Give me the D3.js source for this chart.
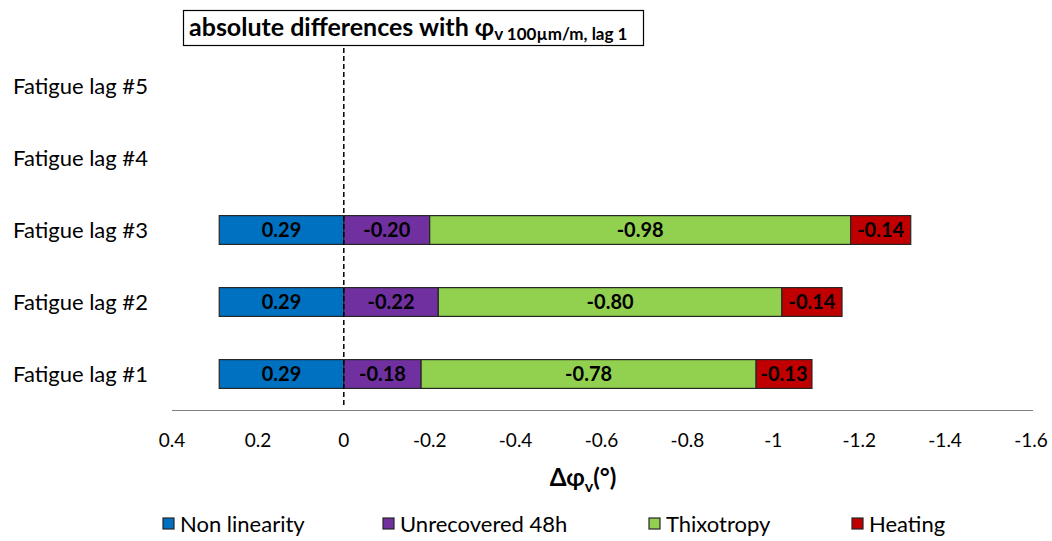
<!DOCTYPE html>
<html>
<head>
<meta charset="utf-8">
<script src="https://cdn.jsdelivr.net/npm/d3@7"></script>
<style>
  body { margin: 0; background: #fff; }
  text { font-family: Lato, "Open Sans", sans-serif; }
</style>
</head>
<body>
<div id="plot"></div>
<script>
const categories = ["Fatigue lag #1", "Fatigue lag #2", "Fatigue lag #3", "Fatigue lag #4", "Fatigue lag #5"];
const seriesNames = ["Non linearity", "Unrecovered 48h", "Thixotropy", "Heating"];
const nonLinearity = [0.29, 0.29, 0.29, null, null];
const unrecovered = [-0.18, -0.22, -0.20, null, null];
const thixotropy = [-0.78, -0.80, -0.98, null, null];
const heating = [-0.13, -0.14, -0.14, null, null];
const xTicks = [0.4, 0.2, 0, -0.2, -0.4, -0.6, -0.8, -1, -1.2, -1.4, -1.6];
const colors = ["#0070C0", "#7030A0", "#92D050", "#C00000"];

const width = 1052, height = 541;

const svg = d3.select("div#plot")
  .append("svg")
  .attr("width", width)
  .attr("height", height);

const x = d3.scaleLinear()
  .domain([0.4, -1.6])
  .range([172, 1031]);

const y = d3.scaleBand()
  .domain(categories)
  .range([410, 50])
  .paddingInner(0.6)
  .paddingOuter(0.3);

const fmt = v => d3.format(".2f")(v).replace("\u2212", "-");

// stack: positive to the left of 0, negatives pile up to the right
const series = [nonLinearity, unrecovered, thixotropy, heating];
const segments = [];
categories.forEach(function(cat, i) {
  let pos = 0, neg = 0;
  series.forEach(function(s, k) {
    const v = s[i];
    if (v == null) return;
    let x0, x1;
    if (v >= 0) { x0 = pos; x1 = pos + v; pos = x1; }
    else { x0 = neg; x1 = neg + v; neg = x1; }
    segments.push({ cat: cat, k: k, v: v, x0: x0, x1: x1 });
  });
});

// axis line
svg.append("line")
  .attr("x1", x(0.4)).attr("x2", x(-1.6) + 2)
  .attr("y1", 410.5).attr("y2", 410.5)
  .attr("stroke", "#7f7f7f")
  .attr("stroke-width", 1.2);

svg.selectAll(".bar")
  .data(segments)
  .join("rect")
  .attr("class", "bar")
  .attr("x", d => Math.min(x(d.x0), x(d.x1)))
  .attr("width", d => Math.abs(x(d.x1) - x(d.x0)))
  .attr("y", d => y(d.cat))
  .attr("height", y.bandwidth())
  .attr("fill", d => colors[d.k])
  .attr("stroke", "#262626")
  .attr("stroke-width", 1.2);

svg.selectAll(".bar-label")
  .data(segments)
  .join("text")
  .attr("class", "bar-label")
  .attr("x", d => (x(d.x0) + x(d.x1)) / 2)
  .attr("y", d => y(d.cat) + y.bandwidth() / 2)
  .attr("dy", "0.36em")
  .attr("text-anchor", "middle")
  .style("font-size", "20px")
  .style("font-weight", "bold")
  .style("fill", "#000")
  .text(d => fmt(d.v));

// dashed zero line
svg.append("line")
  .attr("x1", x(0)).attr("x2", x(0))
  .attr("y1", 48).attr("y2", 408)
  .attr("stroke", "#000")
  .attr("stroke-width", 1.5)
  .attr("stroke-dasharray", "5,3");

// category labels
svg.selectAll(".cat-label")
  .data(categories)
  .join("text")
  .attr("class", "cat-label")
  .attr("x", 13)
  .attr("y", d => y(d) + y.bandwidth() / 2)
  .attr("dy", "0.36em")
  .style("font-size", "22px")
  .style("fill", "#000")
  .text(d => d);

// tick labels
svg.selectAll(".tick-label")
  .data(xTicks)
  .join("text")
  .attr("class", "tick-label")
  .attr("x", d => x(d))
  .attr("y", 440)
  .attr("dy", "0.36em")
  .attr("text-anchor", "middle")
  .style("font-size", "19px")
  .style("fill", "#000")
  .text(d => String(d));

// axis title
const xt = svg.append("text")
  .attr("x", 583)
  .attr("y", 486)
  .attr("text-anchor", "middle")
  .style("font-size", "24px")
  .style("font-weight", "bold");
xt.append("tspan").text("Δφ");
xt.append("tspan").attr("dy", 6).style("font-size", "16px").text("v");
xt.append("tspan").attr("dy", -6).text("(°)");

// title box
svg.append("rect")
  .attr("x", 183.5).attr("y", 10.5)
  .attr("width", 460).attr("height", 35)
  .attr("fill", "#fff")
  .attr("stroke", "#000")
  .attr("stroke-width", 1.2);
const title = svg.append("text")
  .attr("x", 189)
  .attr("y", 36)
  .style("font-size", "25px")
  .style("font-weight", "bold");
title.append("tspan").text("absolute differences with φ");
title.append("tspan").attr("dy", 4).style("font-size", "17px").text("v 100µm/m, lag 1");

// legend
const legendX = [163, 383, 649, 852];
const legend = svg.selectAll(".legend")
  .data(seriesNames)
  .join("g")
  .attr("class", "legend")
  .attr("transform", (d, i) => `translate(${legendX[i]}, 524)`);
legend.append("rect")
  .attr("x", 0).attr("y", -6)
  .attr("width", 11).attr("height", 11)
  .attr("fill", (d, i) => colors[i])
  .attr("stroke", "#262626")
  .attr("stroke-width", 1.2);
legend.append("text")
  .attr("x", 17)
  .attr("y", 0)
  .attr("dy", "0.36em")
  .style("font-size", "22px")
  .style("fill", "#000")
  .text(d => d);
</script>
</body>
</html>
